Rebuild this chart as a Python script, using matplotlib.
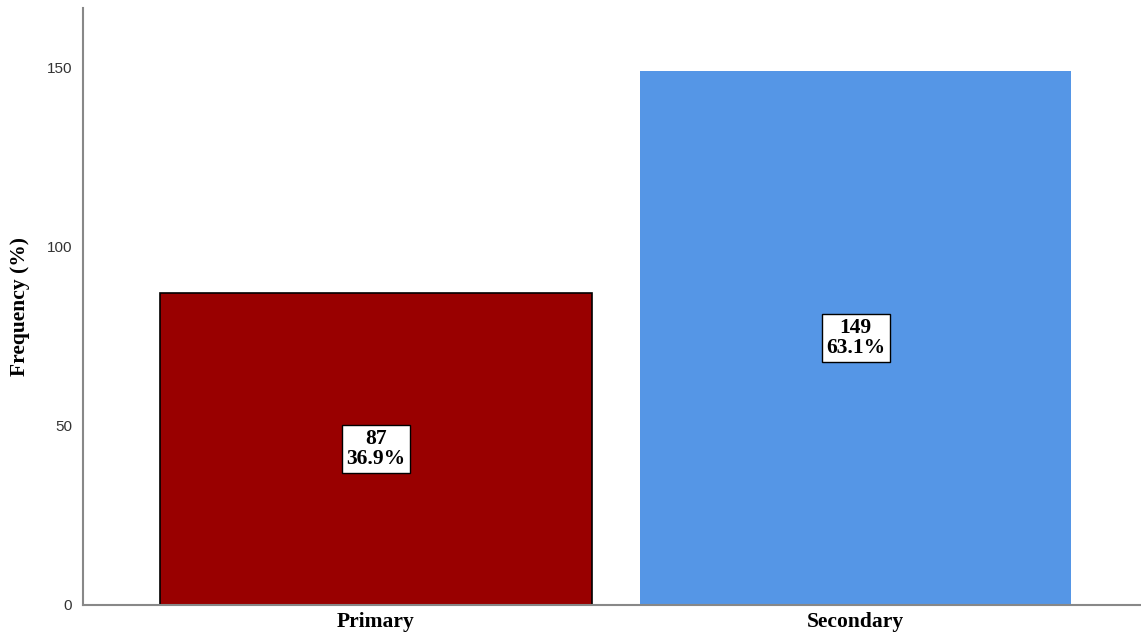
import matplotlib
matplotlib.use("Agg")
import matplotlib.pyplot as plt

categories = ["Primary", "Secondary"]
counts = [87, 149]
percents = [36.9, 63.1]
bar_colors = ["#990000", "#5596E6"]
edge_colors = ["#000000", "none"]
yticks = [0, 50, 100, 150]

fig = plt.figure(figsize=(11.41, 6.41), dpi=100)
ax = fig.add_axes([83/1141, 1 - 605/641, 1 - 83/1141, (605 - 8)/641])

x = list(range(len(categories)))
ax.bar(x, counts, width=0.9, color=bar_colors, edgecolor=edge_colors, linewidth=1.2, zorder=2)

for xi, c, p in zip(x, counts, percents):
    ax.text(xi, c / 2, f"{c}\n{p:.1f}%", ha="center", va="center",
            family="Liberation Serif", fontweight="bold", fontsize=15.5, linespacing=1.0,
            bbox=dict(boxstyle="square,pad=0.2", facecolor="white", edgecolor="black", linewidth=1),
            zorder=3)

ax.set_xlim(-0.611, 1.595)
ax.set_ylim(0, 166.6)
ax.set_xticks(x)
ax.set_xticklabels(categories, family="Liberation Serif", fontweight="bold", fontsize=15.5)
ax.set_yticks(yticks)
ax.set_yticklabels([str(t) for t in yticks], family="Liberation Sans", fontsize=11, color="#333333")
ax.tick_params(axis="both", length=0)
ax.tick_params(axis="y", pad=8)
ax.tick_params(axis="x", pad=5)
ax.set_ylabel("Frequency (%)", family="Liberation Serif", fontweight="bold", fontsize=15.5, labelpad=12)

for side in ["top", "right"]:
    ax.spines[side].set_visible(False)
for side in ["left", "bottom"]:
    ax.spines[side].set_color("#888888")
    ax.spines[side].set_linewidth(1.5)

fig.savefig("out.png", dpi=100)
